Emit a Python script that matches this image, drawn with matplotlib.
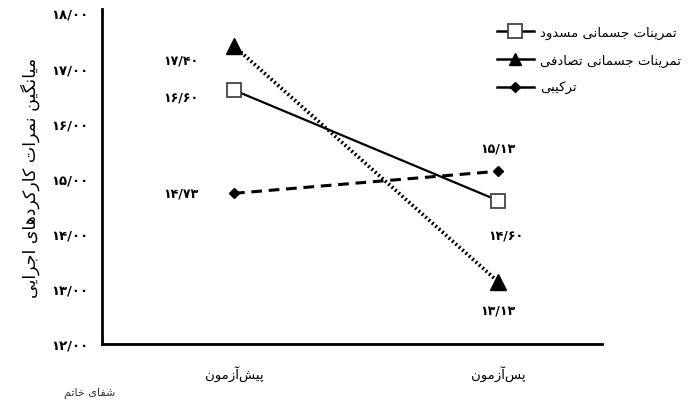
import matplotlib
matplotlib.use("Agg")
import matplotlib.pyplot as plt
from matplotlib.lines import Line2D

####################################
#######  DATA
####################################
groups = ["پیش‌آزمون", "پس‌آزمون"]
series_names = ["تمرینات جسمانی مسدود", "تمرینات جسمانی تصادفی", "ترکیبی"]
blocked = [16.60, 14.60]
random_ = [17.40, 13.13]
combined = [14.73, 15.13]
y_label = "میانگین نمرات کارکردهای اجرایی"
y_ticks = [12, 13, 14, 15, 16, 17, 18]
logo_text = "شفای خاتم"

####################################
#######  minimal persian shaping (matplotlib has no bidi)
####################################
# isolated, final, initial, medial
FORMS = {
    'ا': ('\uFE8D', '\uFE8E', None, None),
    'آ': ('\uFE81', '\uFE82', None, None),
    'ب': ('\uFE8F', '\uFE90', '\uFE91', '\uFE92'),
    'پ': ('\uFB56', '\uFB57', '\uFB58', '\uFB59'),
    'ت': ('\uFE95', '\uFE96', '\uFE97', '\uFE98'),
    'ج': ('\uFE9D', '\uFE9E', '\uFE9F', '\uFEA0'),
    'خ': ('\uFEA5', '\uFEA6', '\uFEA7', '\uFEA8'),
    'د': ('\uFEA9', '\uFEAA', None, None),
    'ر': ('\uFEAD', '\uFEAE', None, None),
    'ز': ('\uFEAF', '\uFEB0', None, None),
    'س': ('\uFEB1', '\uFEB2', '\uFEB3', '\uFEB4'),
    'ش': ('\uFEB5', '\uFEB6', '\uFEB7', '\uFEB8'),
    'ص': ('\uFEB9', '\uFEBA', '\uFEBB', '\uFEBC'),
    'ف': ('\uFED1', '\uFED2', '\uFED3', '\uFED4'),
    'ک': ('\uFB8E', '\uFB8F', '\uFB90', '\uFB91'),
    'گ': ('\uFB92', '\uFB93', '\uFB94', '\uFB95'),
    'م': ('\uFEE1', '\uFEE2', '\uFEE3', '\uFEE4'),
    'ن': ('\uFEE5', '\uFEE6', '\uFEE7', '\uFEE8'),
    'ه': ('\uFEE9', '\uFEEA', '\uFEEB', '\uFEEC'),
    'و': ('\uFEED', '\uFEEE', None, None),
    'ی': ('\uFBFC', '\uFBFD', '\uFBFE', '\uFBFF'),
}


def fa(s):
    out = []
    for i, c in enumerate(s):
        if c not in FORMS:
            out.append(c.replace('\u200c', ''))
            continue
        prev = s[i - 1] if i > 0 else ''
        nxt = s[i + 1] if i + 1 < len(s) else ''
        join_prev = prev in FORMS and FORMS[prev][2] is not None
        join_next = nxt in FORMS and FORMS[c][2] is not None
        iso, fin, ini, med = FORMS[c]
        if join_prev and join_next:
            out.append(med)
        elif join_prev:
            out.append(fin)
        elif join_next:
            out.append(ini)
        else:
            out.append(iso)
    return ''.join(out)[::-1]


def fa_num(v):
    d = str.maketrans('0123456789', '۰۱۲۳۴۵۶۷۸۹')
    return ('%.2f' % v).replace('.', '/').translate(d)


plt.rcParams['font.family'] = ['DejaVu Sans']

fig = plt.figure(figsize=(6.93, 4.06), dpi=100)
ax = fig.add_axes([102 / 693, 61 / 406, 500 / 693, 335 / 406])

x = [0, 1]
ax.plot(x, blocked, color='black', lw=1.6, ls='-', marker='s', ms=10,
        mfc='white', mec='#444444', mew=1.3)
ax.plot(x, random_, color='black', lw=2.7, ls=(0, (0.5, 0.7)), marker='^', ms=11,
        mfc='black', mec='black', zorder=3)
ax.plot(x, combined, color='black', lw=2.2, ls=(0, (3.5, 2.2)), marker='D', ms=5,
        mfc='black', mec='black')

# value labels
ax.text(-0.2, blocked[0] - 0.12, fa_num(blocked[0]), ha='center', va='center', fontsize=9, weight='bold')
ax.text(-0.2, random_[0] - 0.25, fa_num(random_[0]), ha='center', va='center', fontsize=9, weight='bold')
ax.text(-0.2, combined[0], fa_num(combined[0]), ha='center', va='center', fontsize=9, weight='bold')
ax.text(1.03, blocked[1] - 0.62, fa_num(blocked[1]), ha='center', va='center', fontsize=9, weight='bold')
ax.text(1.0, random_[1] - 0.52, fa_num(random_[1]), ha='center', va='center', fontsize=9, weight='bold')
ax.text(1.0, combined[1] + 0.42, fa_num(combined[1]), ha='center', va='center', fontsize=9, weight='bold')

ax.set_xlim(-0.5, 1.394)
ax.set_ylim(12, 18.07)
ax.set_yticks(y_ticks)
ax.set_yticklabels([fa_num(v) for v in y_ticks], fontsize=9.5, weight='bold')
ax.set_xticks(x)
ax.set_xticklabels([fa(g) for g in groups], fontsize=9.5)
ax.tick_params(axis='both', length=0)
ax.tick_params(axis='y', pad=10)
ax.tick_params(axis='x', pad=15)
ax.spines['top'].set_visible(False)
ax.spines['right'].set_visible(False)
ax.spines['left'].set_linewidth(2)
ax.spines['bottom'].set_linewidth(2)

fig.text(30 / 693, 1 - 178 / 406, fa(y_label), rotation=90, ha='center', va='center', fontsize=12.5)

# legend: solid lines through the markers like the original
handles = [
    Line2D([], [], color='black', lw=1.8, marker='s', ms=10, mfc='white', mec='#444444', mew=1.3),
    Line2D([], [], color='black', lw=1.8, marker='^', ms=9, mfc='black', mec='black'),
    Line2D([], [], color='black', lw=1.8, marker='D', ms=5, mfc='black', mec='black'),
]
fig.legend(handles=handles, labels=[fa(n) for n in series_names], loc='upper left',
           bbox_to_anchor=(485 / 693, 1 - 15 / 406), frameon=False, fontsize=9.5,
           handlelength=2.8, labelspacing=1.1, handletextpad=0.5)

fig.text(90 / 693, 1 - 393 / 406, fa(logo_text), ha='center', va='center', fontsize=8,
         color='#333333')

plt.savefig('out.png', dpi=100)
